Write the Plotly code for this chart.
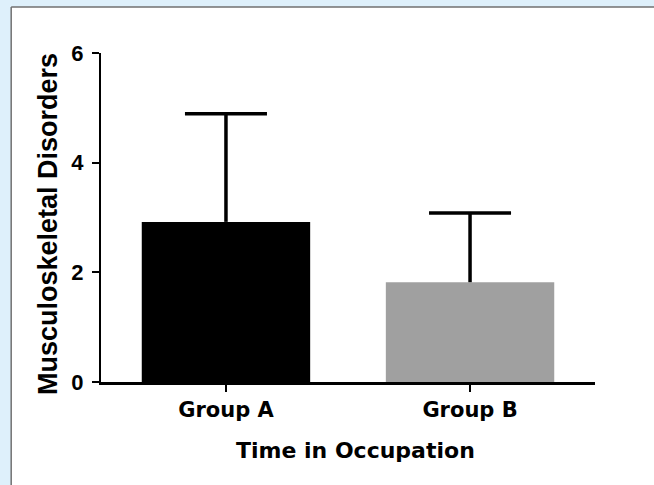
import plotly.graph_objects as go

categories = ["Group A", "Group B"]
means = [2.92, 1.82]
sds = [1.97, 1.26]
bar_colors = ["#000000", "#a0a0a0"]
y_ticks = [0, 2, 4, 6]

positions = list(range(len(categories)))

fig = go.Figure()
fig.add_trace(go.Bar(
    x=positions, y=means, width=0.69,
    marker=dict(color=bar_colors, line=dict(width=0)),
    showlegend=False, hoverinfo="skip",
))

cap = 0.168
ex, ey = [], []
for p, m, s in zip(positions, means, sds):
    ex += [p, p, None, p - cap, p + cap, None]
    ey += [m, m + s, None, m + s, m + s, None]
fig.add_trace(go.Scatter(
    x=ex, y=ey, mode="lines",
    line=dict(color="black", width=3.5),
    showlegend=False, hoverinfo="skip", cliponaxis=False,
))

fig.update_layout(
    width=654, height=485,
    margin=dict(l=101, r=59, t=53, b=103),
    paper_bgcolor="white", plot_bgcolor="white",
    shapes=[
        dict(type="rect", xref="paper", yref="paper", x0=-0.3, x1=1.2, y0=1.1398, y1=1.3,
             fillcolor="#def0fb", line=dict(width=0), layer="below"),
        dict(type="rect", xref="paper", yref="paper", x0=-0.3, x1=-0.1818, y0=-0.4, y1=1.3,
             fillcolor="#def0fb", line=dict(width=0), layer="below"),
        dict(type="line", xref="paper", yref="paper", x0=-0.1818, x1=1.2, y0=1.1398, y1=1.1398,
             line=dict(color="#707070", width=1.5), layer="below"),
        dict(type="line", xref="paper", yref="paper", x0=-0.1818, x1=-0.1818, y0=-0.4, y1=1.1398,
             line=dict(color="#707070", width=1.5), layer="below"),
    ],
    xaxis=dict(
        range=[-0.512, 1.512], tickvals=positions, ticktext=categories,
        showline=True, linecolor="black", linewidth=2.5,
        ticks="outside", ticklen=7, tickwidth=2, tickcolor="black",
        showgrid=False, zeroline=False,
        tickfont=dict(family="DejaVu Sans", size=21, color="black", weight="bold"),
    ),
    yaxis=dict(
        range=[0, 6], tickvals=y_ticks,
        showline=True, linecolor="black", linewidth=2,
        ticks="outside", ticklen=7, tickwidth=2, tickcolor="black",
        showgrid=False, zeroline=False, ticklabelstandoff=4,
        tickfont=dict(family="Liberation Sans", size=22, color="black", weight="bold"),
    ),
    annotations=[
        dict(text="Time in Occupation", xref="paper", yref="paper",
             x=(355 - 101) / 494, y=(382 - 450) / 329, xanchor="center", yanchor="middle",
             showarrow=False,
             font=dict(family="DejaVu Sans", size=22, color="black", weight="bold")),
        dict(text="Musculoskeletal Disorders", xref="paper", yref="paper",
             x=(48 - 101) / 494, y=(382 - 224) / 329, xanchor="center", yanchor="middle",
             showarrow=False, textangle=-90,
             font=dict(family="Liberation Sans", size=27, color="black", weight="bold")),
    ],
)

fig.write_html("out.html", config={"displayModeBar": False},
               post_script="document.body.style.margin='0';document.body.style.overflow='hidden';")
